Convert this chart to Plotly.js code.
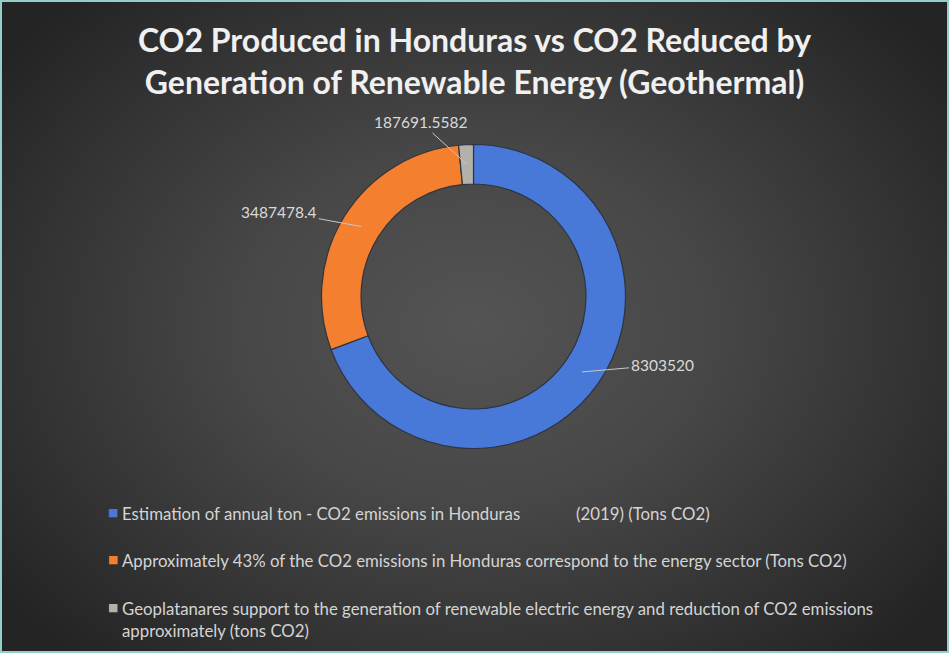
<!DOCTYPE html>
<html>
<head>
<meta charset="utf-8">
<script src="https://cdn.plot.ly/plotly-3.0.1.min.js"></script>
<style>
  html, body { margin: 0; padding: 0; background: #1e1e1e; }
  #wrap {
    position: relative; width: 949px; height: 653px; overflow: hidden;
    background: radial-gradient(ellipse 62% 68% at 50% 50%, #545454 0%, #474747 40%, #333333 75%, #242424 100%);
  }
  #chart { position: absolute; left: 0; top: 0; width: 949px; height: 653px; }
  #frame {
    position: absolute; left: 0; top: 0; width: 949px; height: 653px; box-sizing: border-box;
    border: 2px solid #93cfc6; pointer-events: none;
  }
</style>
</head>
<body>
<div id="wrap">
  <div id="chart"></div>
  <div id="frame"></div>
</div>
<script>
// Categories and values (tons of CO2)
const categories = [
  "Estimation of annual ton - CO2 emissions in Honduras\u00a0\u00a0\u00a0\u00a0\u00a0\u00a0\u00a0\u00a0\u00a0\u00a0\u00a0\u00a0 (2019) (Tons CO2)",
  "Approximately 43% of the CO2 emissions in Honduras correspond to the energy sector (Tons CO2)",
  "Geoplatanares support to the generation of renewable electric energy and reduction of CO2 emissions<br>approximately (tons CO2)"
];
const values = [8303520, 3487478.4, 187691.5582];
const valueLabels = ["8303520", "3487478.4", "187691.5582"];
const colors = ["#4878d8", "#f47f2e", "#b2b2aa"];

const W = 949, H = 653;
// donut placement (pixels)
const cx = 473.5, cy = 296.5, R = 152, hole = 0.74;

const pie = {
  type: "pie",
  values: values,
  labels: categories,
  sort: false,
  direction: "clockwise",
  rotation: 0,
  hole: hole,
  textinfo: "none",
  hoverinfo: "label+value",
  marker: { colors: colors, line: { color: "#2e3440", width: 1.2 } },
  domain: {
    x: [(cx - R) / W, (cx + R) / W],
    y: [1 - (cy + R) / H, 1 - (cy - R) / H]
  },
  showlegend: false
};

// value labels with leader lines, anchored at each slice's mid-angle
const total = values.reduce((a, b) => a + b, 0);
const labelOffsets = [[80, -7], [-82, -15], [-46, -42]];
const annotations = [];
let cum = 0;
const rMid = R * (1 + hole) / 2;
values.forEach((v, i) => {
  const mid = (cum + v / 2) / total * 2 * Math.PI;
  cum += v;
  const px = cx + rMid * Math.sin(mid);
  const py = cy - rMid * Math.cos(mid);
  annotations.push({
    xref: "paper", yref: "paper",
    x: px / W, y: 1 - py / H,
    text: valueLabels[i],
    showarrow: true, arrowhead: 0, arrowwidth: 1, arrowcolor: "#c8c8c8",
    standoff: 0, startstandoff: 0,
    ax: labelOffsets[i][0], ay: labelOffsets[i][1],
    font: { family: "Lato, sans-serif", size: 15.5, color: "#d9d9d9" }
  });
});

// legend rows: colour square + text
const legendRows = [512, 559, 607];
categories.forEach((c, i) => {
  annotations.push({
    xref: "paper", yref: "paper", x: 106 / W, y: 1 - legendRows[i] / H,
    xanchor: "left", yanchor: "middle", showarrow: false,
    text: "\u25A0", font: { family: "DejaVu Sans, sans-serif", size: 11, color: colors[i] }
  });
  annotations.push({
    xref: "paper", yref: "paper", x: 120 / W, y: 1 - (legendRows[i] - 11) / H,
    xanchor: "left", yanchor: "top", align: "left", showarrow: false,
    text: c, font: { family: "Lato, sans-serif", size: 16.8, color: "#d4d4d4" }
  });
});

const layout = {
  width: W, height: H,
  margin: { l: 0, r: 0, t: 0, b: 0 },
  paper_bgcolor: "rgba(0,0,0,0)",
  plot_bgcolor: "rgba(0,0,0,0)",
  title: {
    text: "CO2 Produced in Honduras vs CO2 Reduced by<br>Generation of Renewable Energy (Geothermal)",
    font: { family: "Lato, sans-serif", size: 32, color: "#f0f0f0", weight: "bold" },
    x: 0.5, xanchor: "center", y: 1 - 52 / H, yanchor: "middle"
  },
  annotations: annotations
};

Plotly.newPlot("chart", [pie], layout, { displayModeBar: false, staticPlot: true });
</script>
</body>
</html>
